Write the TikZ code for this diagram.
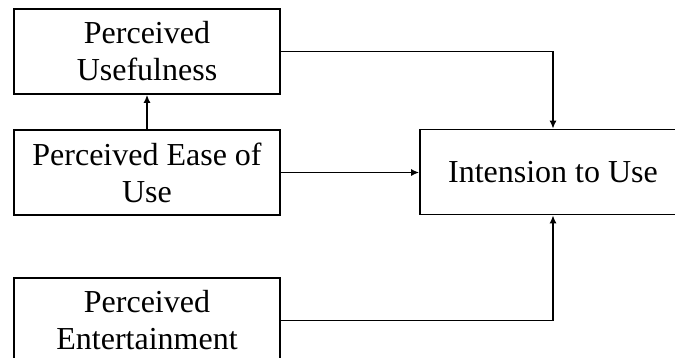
\documentclass[tikz,border=0pt]{standalone}
\usepackage{fontspec}
\setmainfont{Liberation Serif}
\usetikzlibrary{arrows.meta}
\tikzset{
  factor/.style={draw, line width=1.6pt, rectangle, align=center, minimum width=266pt, minimum height=85pt, inner sep=0pt, font=\fontsize{32}{37}\selectfont},
  link/.style={line width=1.6pt, -{Latex[length=8pt,width=7pt]}}
}
\begin{document}
\begin{tikzpicture}[x=1pt, y=-1pt]
			 \useasboundingbox (0,0) rectangle (675,357);
			 \clip (0,0) rectangle (675,357);
			 \node[factor] (pu)at(147,51.5) {Perceived\\Usefulness};
			 \node[factor] (peou)at(147,172.5) {Perceived Ease of\\Use};
			 \node[factor] (pe)at(147,320.5) {Perceived\\Entertainment};
			 \node[factor] (itu)at(553,172) {Intension to Use};
			 \draw[link] (peou.north) -- (pu.south);
			 \draw[link] (pu.east) -| (itu.north);
			 \draw[link] (peou.east) -- (peou.east -| itu.west);
			 \draw[link] (pe.east) -| (itu.south);
		\end{tikzpicture}
\end{document}
